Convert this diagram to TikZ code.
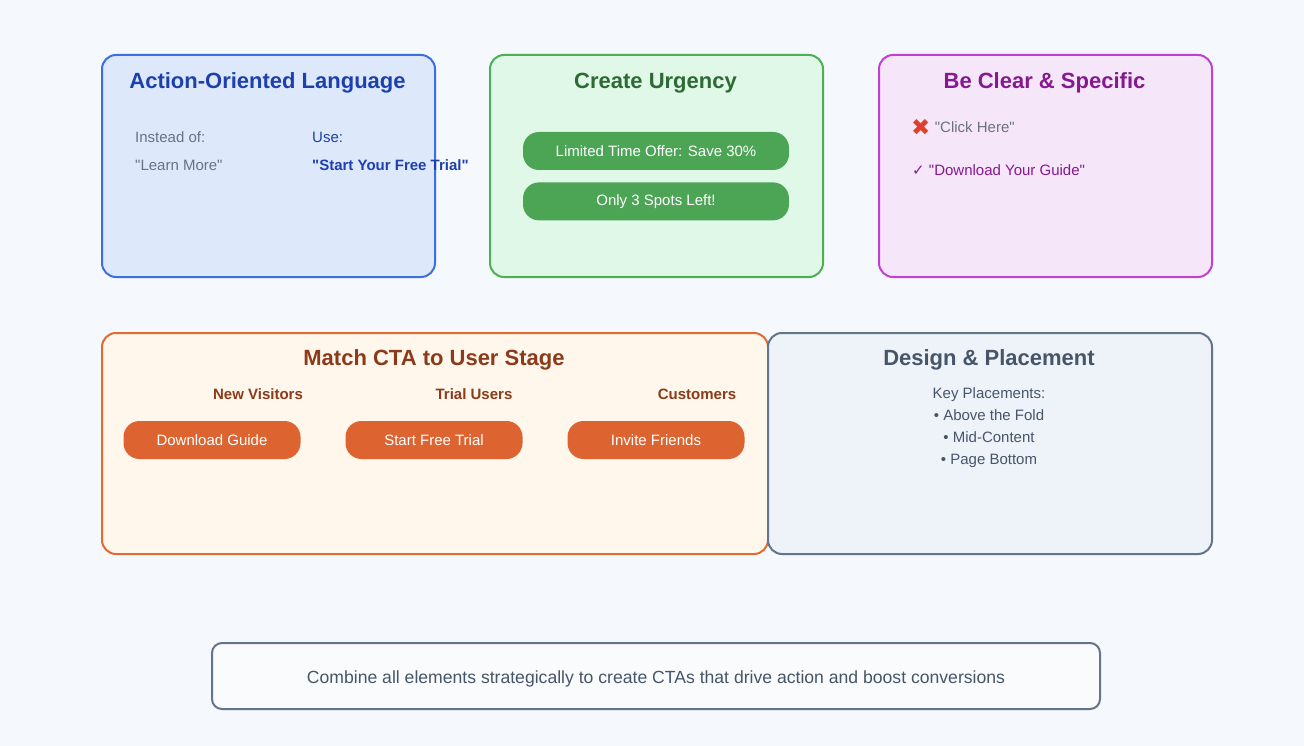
\documentclass[tikz,border=0pt]{standalone}
\usepackage{fontspec}
\setmainfont{Liberation Sans}[Ligatures=TeXOff]
\newfontfamily\symbolfont{DejaVu Sans}
\usetikzlibrary{positioning}

\definecolor{pagebg}{HTML}{F5F8FC}
\definecolor{langline}{HTML}{3D6FE0}
\definecolor{langfill}{HTML}{DDE9FA}
\definecolor{langdark}{HTML}{1E40AF}
\definecolor{urgline}{HTML}{4CAF50}
\definecolor{urgfill}{HTML}{E0F8E8}
\definecolor{urgdark}{HTML}{2E6B34}
\definecolor{urgpill}{HTML}{4CA455}
\definecolor{clearline}{HTML}{C040D0}
\definecolor{clearfill}{HTML}{F5E6FA}
\definecolor{cleardark}{HTML}{86198F}
\definecolor{stageline}{HTML}{E06A30}
\definecolor{stagefill}{HTML}{FFF7EC}
\definecolor{stagedark}{HTML}{8B3A1A}
\definecolor{stagepill}{HTML}{DD6430}
\definecolor{designline}{HTML}{64748B}
\definecolor{designfill}{HTML}{EEF3F9}
\definecolor{designdark}{HTML}{475569}
\definecolor{mutedtext}{HTML}{6B7280}
\definecolor{crossred}{HTML}{E0402A}

\begin{document}
\begin{tikzpicture}[x=1pt,y=-1pt,
    card/.style={draw=#1, line width=2pt, rounded corners=14pt, anchor=north west, inner sep=0pt},
    title/.style={font=\fontsize{22}{26}\selectfont\bfseries},
    body/.style={font=\fontsize{15}{18}\selectfont, inner sep=0pt},
    pill/.style={rounded corners=16pt, minimum height=38pt, text=white, font=\fontsize{15}{18}\selectfont, inner sep=0pt}]
  \useasboundingbox[fill=pagebg] (0,0) rectangle (1304,746);

  % top row
  \node[card=langline, fill=langfill, minimum width=333pt, minimum height=222pt] (lang) at (101,54) {};
  \node[card=urgline, fill=urgfill, minimum width=333pt, minimum height=222pt] (urgency) at (489,54) {};
  \node[card=clearline, fill=clearfill, minimum width=333pt, minimum height=222pt] (clear) at (878,54) {};

  \node[title, text=langdark] (langtitle) at (267.5,83) {Action-Oriented Language};
  \node[body, anchor=west, text=mutedtext] (instead) at (135,137) {Instead of:};
  \node[body, anchor=west, text=langdark] (use) at (312,137) {Use:};
  \node[body, anchor=west, text=mutedtext] (weak) at (135,165) {"Learn More"};
  \node[body, anchor=west, text=langdark, font=\fontsize{15}{18}\selectfont\bfseries] (strong) at (312,165) {"Start Your Free Trial"};

  \node[title, text=urgdark] (urgtitle) at (655.5,83) {Create Urgency};
  \node[pill, fill=urgpill, minimum width=266pt] (offer) at (656,151) {Limited Time Offer: Save 30\%};
  \node[pill, fill=urgpill, minimum width=266pt, below=12pt of offer] (spots) {Only 3 Spots Left!};

  \node[title, text=cleardark] (cleartitle) at (1044.5,83) {Be Clear \& Specific};
  \node[body, anchor=west, text=crossred, font=\symbolfont\fontsize{23}{24}\selectfont] (cross) at (911,127) {✖};
  \node[body, anchor=west, text=mutedtext, right=4pt of cross] (vague) {"Click Here"};
  \node[body, anchor=west, text=cleardark] (specific) at (912,170) {{\symbolfont\bfseries ✓} "Download Your Guide"};

  % middle row
  \node[card=stageline, fill=stagefill, minimum width=666pt, minimum height=221pt] (stage) at (101,332) {};
  \node[card=designline, fill=designfill, minimum width=444pt, minimum height=221pt] (design) at (767,332) {};

  \node[title, text=stagedark] (stagetitle) at (434,360) {Match CTA to User Stage};
  \foreach \lbl/\btn/\cx/\lx/\nm in {New Visitors/Download Guide/212/258/visitors,
      Trial Users/Start Free Trial/434/474/trial,
      Customers/Invite Friends/656/697/customers}{
    \node[body, text=stagedark, font=\fontsize{15}{18}\selectfont\bfseries] (\nm) at (\lx,394) {\lbl};
    \node[pill, fill=stagepill, minimum width=177pt] (\nm btn) at (\cx,440) {\btn};
  }

  \node[title, text=designdark] (designtitle) at (989,360) {Design \& Placement};
  \node[body, text=designdark, align=center, font=\fontsize{15}{22}\selectfont] (places) at (989,428)
    {Key Placements:\\• Above the Fold\\• Mid-Content\\• Page Bottom};

  % bottom summary
  \node[draw=designline, line width=2pt, fill=pagebg!60!white, rounded corners=10pt,
    minimum width=888pt, minimum height=66pt, text=designdark,
    font=\fontsize{17.6}{21}\selectfont] (summary) at (656,676) {};
  \node[text=designdark, font=\fontsize{17.6}{21}\selectfont, inner sep=0pt] (summarytext) at (656,679)
    {Combine all elements strategically to create CTAs that drive action and boost conversions};
\end{tikzpicture}
\end{document}
